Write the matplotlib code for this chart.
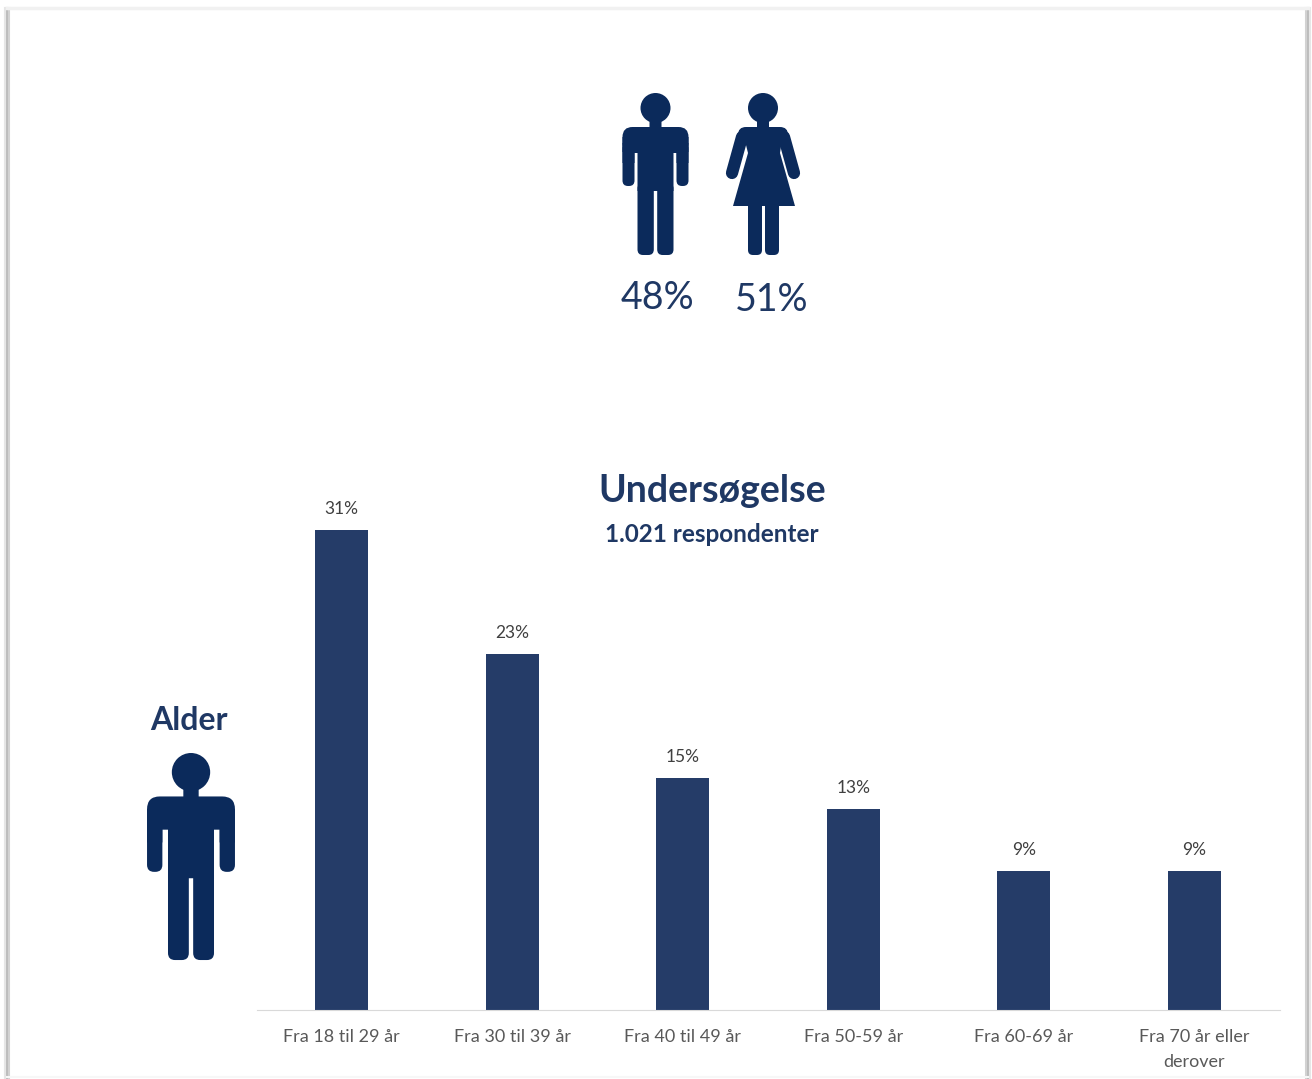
import matplotlib
matplotlib.use('Agg')
import matplotlib.pyplot as plt
from matplotlib.patches import Circle, FancyBboxPatch, Polygon

plt.rcParams['font.family'] = ['Lato', 'DejaVu Sans']

# Data
age_groups = ['Fra 18 til 29 år', 'Fra 30 til 39 år', 'Fra 40 til 49 år',
              'Fra 50-59 år', 'Fra 60-69 år', 'Fra 70 år eller\nderover']
age_share = [31, 23, 15, 13, 9, 9]
men_share = '48%'
women_share = '51%'

W, H = 1312, 1079
BAR = '#253c68'
ICON = '#0b2a5b'
DARK = '#1f3864'
GREY = '#595959'

fig = plt.figure(figsize=(W / 100, H / 100), dpi=100, facecolor='white')

# Bars
ax = fig.add_axes([256.5 / W, 1 - 1010 / H, 1023 / W, 511 / H])
ax.bar(range(len(age_share)), age_share, width=0.31, color=BAR)
ax.set_xlim(-0.5, 5.5)
ax.set_ylim(0, 33)
ax.set_xticks(range(len(age_groups)))
ax.set_xticklabels(age_groups, fontsize=13, color=GREY, linespacing=1.65)
ax.tick_params(axis='x', length=0, pad=14)
ax.set_yticks([])
for side in ['top', 'left', 'right']:
    ax.spines[side].set_visible(False)
ax.spines['bottom'].set_color('#d9d9d9')
ax.patch.set_alpha(0)
for i, v in enumerate(age_share):
    ax.annotate('%d%%' % v, (i, v), xytext=(0, 13), textcoords='offset pixels',
                ha='center', va='bottom', fontsize=12.5, color='#404040')

# Overlay in pixel coordinates for icons, headings and the page frame
ov = fig.add_axes([0, 0, 1, 1], zorder=-1)
ov.set_xlim(0, W)
ov.set_ylim(H, 0)
ov.axis('off')


def rbox(x0, y0, x1, y1, r):
    ov.add_patch(FancyBboxPatch((x0 + r, y0 + r), x1 - x0 - 2 * r, y1 - y0 - 2 * r,
                                boxstyle='round,pad=%f,rounding_size=%f' % (r, r),
                                fc=ICON, ec='none'))


def man(cx, top, s, half=33):
    ov.add_patch(Circle((cx, top + 15 * s), 15 * s, fc=ICON, ec='none'))
    rbox(cx - 6 * s, top + 20 * s, cx + 6 * s, top + 40 * s, 0.1)
    # shoulders, rounded on top only
    rbox(cx - half * s, top + 34 * s, cx + half * s, top + 60 * s, 10 * s)
    rbox(cx - half * s, top + 44 * s, cx + half * s, top + 59 * s, 0.1)
    rbox(cx - half * s, top + 50 * s, cx - (half - 12) * s, top + 93 * s, 5.5 * s)
    rbox(cx - half * s, top + 50 * s, cx - (half - 12) * s, top + 70 * s, 0.1)
    rbox(cx + (half - 12) * s, top + 50 * s, cx + half * s, top + 93 * s, 5.5 * s)
    rbox(cx + (half - 12) * s, top + 50 * s, cx + half * s, top + 70 * s, 0.1)
    rbox(cx - 18 * s, top + 44 * s, cx + 18 * s, top + 98 * s, 0.1)
    rbox(cx - 18 * s, top + 90 * s, cx - 1.7 * s, top + 162 * s, 5.5 * s)
    rbox(cx + 1.7 * s, top + 90 * s, cx + 18 * s, top + 162 * s, 5.5 * s)


def woman(cx, top):
    ov.add_patch(Circle((cx, top + 15), 15, fc=ICON, ec='none'))
    rbox(cx - 6, top + 20, cx + 6, top + 40, 0.1)
    rbox(cx - 25, top + 34, cx + 25, top + 52, 8)
    ov.add_patch(Polygon([(cx - 20, top + 40), (cx + 20, top + 40), (cx + 17, top + 60),
                          (cx + 32, top + 113), (cx - 30, top + 113), (cx - 15, top + 60)],
                         closed=True, fc=ICON, ec='none'))
    for sign in [-1, 1]:
        ov.plot([cx + sign * 21, cx + sign * 31], [top + 44, top + 80], color=ICON,
                lw=8.8, solid_capstyle='round')
    rbox(cx - 15, top + 105, cx - 1, top + 162, 5)
    rbox(cx + 2, top + 105, cx + 16, top + 162, 5)


man(655.5, 93, 1)
woman(763, 93)
man(191, 753, 1.278, half=34.4)

ov.text(657, 298, men_share, fontsize=27, color=DARK, ha='center', va='center')
ov.text(772, 300, women_share, fontsize=27, color=DARK, ha='center', va='center')
ov.text(712, 491, 'Undersøgelse', fontsize=27, fontweight='bold', color=DARK,
        ha='center', va='center')
ov.text(712, 534, '1.021 respondenter', fontsize=17.5, fontweight='bold', color=DARK,
        ha='center', va='center')
ov.text(189, 720, 'Alder', fontsize=23, fontweight='bold', color=DARK,
        ha='center', va='center')

# Page frame with its soft shadow
for off, col in [(0, '#bdbdbd'), (2, '#d2d2d2'), (-2, '#e6e6e6')]:
    ov.plot([7 + off, 7 + off], [8, H], color=col, lw=1.5)
    ov.plot([1308 - off, 1308 - off], [8, H], color=col, lw=1.5)
ov.plot([7, 1308], [8, 8], color='#f1f1f1', lw=2.5)
ov.plot([7, 1308], [1077, 1077], color='#f7f7f7', lw=1.5)

fig.savefig('out.png', dpi=100, facecolor='white')
